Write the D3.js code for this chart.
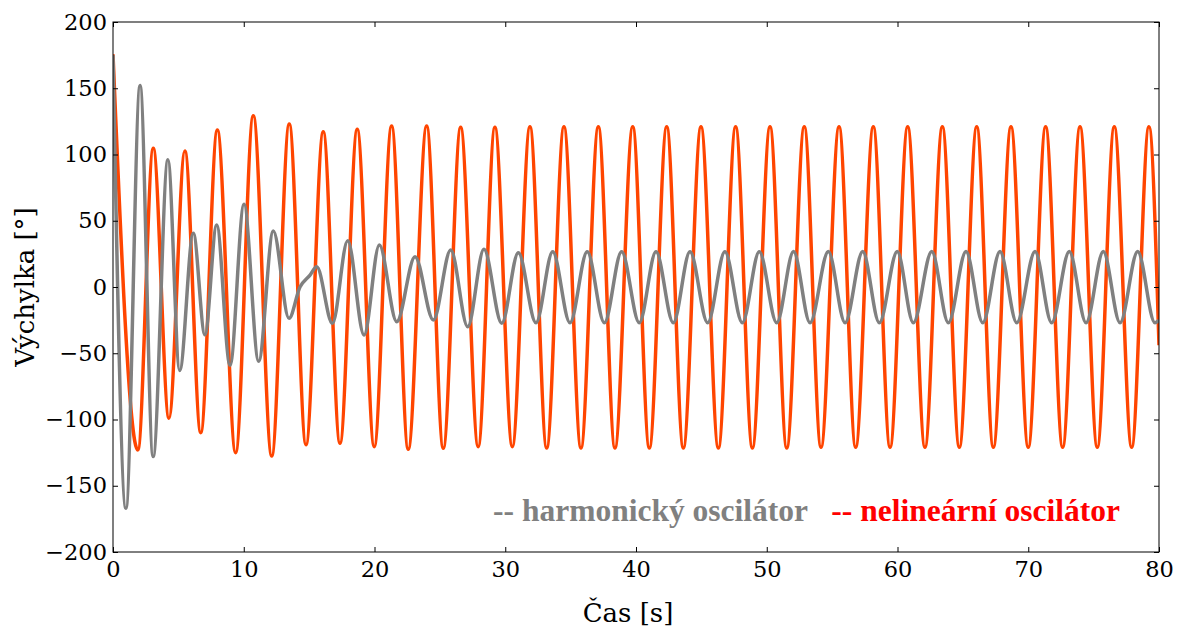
<!DOCTYPE html>
<html>
<head>
<meta charset="utf-8">
<script src="https://cdn.jsdelivr.net/npm/d3@7"></script>
<style>
  body { margin: 0; background: #fff; }
  .tick text { font-family: "DejaVu Serif", serif; }
</style>
</head>
<body>
<div id="chart"></div>
<script>
// extrema: time [s] and deflection [deg]
const harmT = [0, 0.99, 2.07, 3.07, 4.2, 5.1, 6.14, 7.03, 7.93, 8.95, 10.02, 11.14, 12.26, 13.46, 14.3, 15.07, 15.58,
  16.78, 17.95, 19.2, 20.37, 21.7, 23.1, 24.5, 25.83, 27.13, 28.37, 29.73, 31.0, 32.35, 33.63, 34.95, 36.27,
  37.58, 38.9, 40.25, 41.53, 42.85, 44.13, 45.48, 46.8, 48.13, 49.43, 50.76, 52.05, 53.31, 54.71, 55.99, 57.34,
  58.61, 59.98, 61.21, 62.62, 63.89, 65.24, 66.52, 67.84, 69.12, 70.52, 71.79, 73.14, 74.42, 75.74, 77.02, 78.37,
  79.69, 80];
const harmV = [175, -167, 152, -128, 96, -63, 40.6, -36, 46.8, -59, 62.4, -56, 42.3, -23.6, 0, 9, 15.3,
  -27.4, 35, -36.2, 31.7, -26.2, 22.9, -24.9, 27.9, -30, 28.4, -27.4, 25.9, -27, 26.6, -27, 26.6,
  -27, 26.6, -27, 26.6, -27, 26.6, -27, 26.6, -27, 26.6, -27, 26.7, -27, 26.7, -27, 26.7,
  -27, 26.7, -27, 26.7, -27, 26.7, -27, 26.7, -27, 26.7, -27, 26.7, -27, 26.7, -27, 26.7,
  -27, -25];

const nonlinT = [0, 1.9, 3.08, 4.28, 5.5, 6.71, 7.98, 9.38, 10.73, 12.14, 13.48, 14.76, 16.08, 17.36, 18.68,
  19.98, 21.31, 22.58, 23.99, 25.26, 26.59, 27.93, 29.21, 30.54, 31.89, 33.17, 34.49, 35.79, 37.12, 38.39,
  39.75, 41.02, 42.35, 43.62, 44.97, 46.3, 47.62, 48.9, 50.25, 51.53, 52.87, 54.15, 55.53, 56.8, 58.15,
  59.43, 60.78, 62.1, 63.43, 64.73, 66.06, 67.33, 68.68, 70.0, 71.33, 72.63, 73.96, 75.28, 76.58, 77.91,
  79.23, 80];
const nonlinV = [175.6, -123, 104.7, -99, 102.6, -110, 118.5, -125, 129.3, -127.5, 123, -119, 117.2, -118, 119,
  -120.5, 121.5, -122.5, 121.5, -121.7, 120.5, -120.5, 120.5, -120.5, 121, -121.5, 121, -121.5, 121, -121.5,
  121, -121.5, 121, -121.5, 121, -121.5, 121, -121.5, 121, -121.5, 121, -121, 121, -121, 121,
  -121, 121, -121, 121, -121, 121, -121, 121, -121, 121, -121, 121, -121, 121, -121,
  121, -44];

const xTicks = [0, 10, 20, 30, 40, 50, 60, 70, 80];
const yTicks = [-200, -150, -100, -50, 0, 50, 100, 150, 200];

const seriesNames = ["-- harmonický oscilátor", "-- nelineární oscilátor"];

// layout
var margin = { top: 22, right: 31, bottom: 80, left: 113 },
    width = 1190 - margin.left - margin.right,
    height = 632 - margin.top - margin.bottom;

var svg = d3.select("#chart")
    .append("svg")
    .attr("width", 1190)
    .attr("height", 632)
    .append("g")
    .attr("transform", "translate(" + margin.left + "," + margin.top + ")");

var x = d3.scaleLinear().domain([0, 80]).range([0, width]);
var y = d3.scaleLinear().domain([-200, 200]).range([height, 0]);

// clip so lines stay inside the frame
svg.append("clipPath").attr("id", "clip")
    .append("rect").attr("width", width).attr("height", height);

var line = d3.line()
    .x(d => x(d[0]))
    .y(d => y(d[1]))
    .curve(d3.curveMonotoneX);

const nonlin = nonlinT.map((t, i) => [t, nonlinV[i]]);
const harm = harmT.map((t, i) => [t, harmV[i]]);

svg.append("path")
    .datum(nonlin)
    .attr("clip-path", "url(#clip)")
    .attr("fill", "none")
    .attr("stroke", "#ff4500")
    .attr("stroke-width", 3.5)
    .attr("d", line);

svg.append("path")
    .datum(harm)
    .attr("clip-path", "url(#clip)")
    .attr("fill", "none")
    .attr("stroke", "#808080")
    .attr("stroke-width", 3.5)
    .attr("d", line);

// axes, ticks pointing inwards on all four sides
function styleAxis(g) {
    g.select(".domain").remove();
    g.selectAll(".tick line").attr("stroke", "#000");
    g.selectAll(".tick text").attr("fill", "#000").attr("font-size", "22.5px");
}

svg.append("g")
    .attr("transform", "translate(0," + height + ")")
    .call(d3.axisBottom(x).tickValues(xTicks).tickSize(-5).tickPadding(9).tickFormat(d3.format("d")))
    .call(styleAxis);

svg.append("g")
    .call(d3.axisTop(x).tickValues(xTicks).tickSize(-5).tickFormat(""))
    .call(styleAxis);

svg.append("g")
    .call(d3.axisLeft(y).tickValues(yTicks).tickSize(-5).tickPadding(6).tickFormat(d3.format("d")))
    .call(styleAxis);

svg.append("g")
    .attr("transform", "translate(" + width + ",0)")
    .call(d3.axisRight(y).tickValues(yTicks).tickSize(-5).tickFormat(""))
    .call(styleAxis);

// frame
svg.append("rect")
    .attr("width", width)
    .attr("height", height)
    .attr("fill", "none")
    .attr("stroke", "#000")
    .attr("stroke-width", 1);

// axis labels
svg.append("text")
    .attr("x", width / 2 - 8)
    .attr("y", height + 70)
    .attr("text-anchor", "middle")
    .attr("font-family", "DejaVu Serif, serif")
    .attr("font-size", "26px")
    .text("Čas [s]");

svg.append("text")
    .attr("transform", "translate(" + (-79) + "," + (height / 2) + ") rotate(-90)")
    .attr("text-anchor", "middle")
    .attr("font-family", "DejaVu Serif, serif")
    .attr("font-size", "26px")
    .text("Výchylka [°]");

// legend text
const legendColors = ["#808080", "#ff0000"];
const legendRight = [695, 1007];
svg.selectAll(".legend")
    .data(seriesNames)
    .enter()
    .append("text")
    .attr("class", "legend")
    .attr("x", (d, i) => legendRight[i])
    .attr("y", height - 31)
    .attr("text-anchor", "end")
    .attr("font-family", "Liberation Serif, serif")
    .attr("font-weight", "bold")
    .attr("font-size", "31.5px")
    .attr("fill", (d, i) => legendColors[i])
    .text(d => d);
</script>
</body>
</html>
